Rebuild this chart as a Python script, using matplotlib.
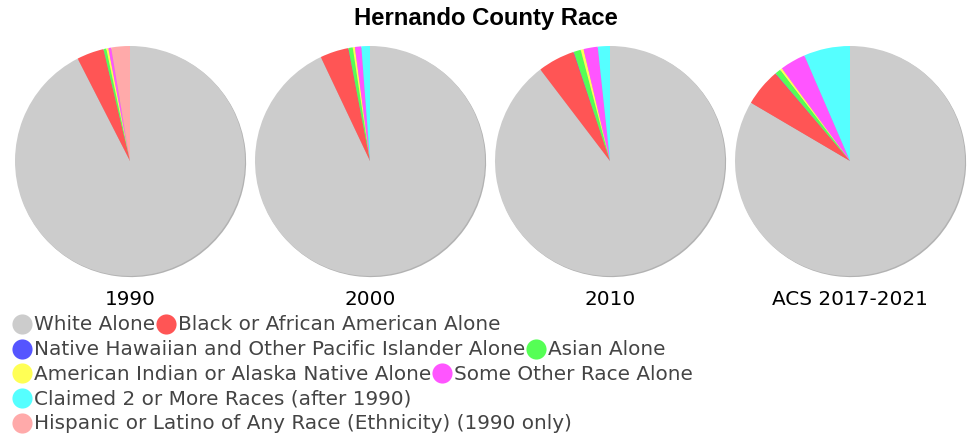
import matplotlib
matplotlib.use("Agg")
import matplotlib.pyplot as plt

# data (percent of population)
years = ["1990", "2000", "2010", "ACS 2017-2021"]
categories = ["White Alone", "Black or African American Alone",
              "Native Hawaiian and Other Pacific Islander Alone", "Asian Alone",
              "American Indian or Alaska Native Alone", "Some Other Race Alone",
              "Claimed 2 or More Races (after 1990)",
              "Hispanic or Latino of Any Race (Ethnicity) (1990 only)"]
colors = ["#cccccc", "#ff5555", "#5555ff", "#55ff55",
          "#ffff55", "#ff55ff", "#55ffff", "#ffaaaa"]

white = [95.0, 92.9, 89.6, 83.5]
black = [3.9, 4.0, 5.2, 5.3]
nhpi = [0.02, 0.03, 0.05, 0.05]
asian = [0.4, 0.6, 1.0, 0.8]
amind = [0.3, 0.3, 0.4, 0.3]
other = [0.4, 0.9, 2.0, 3.6]
two_plus = [0.0, 1.2, 1.7, 6.5]
hispanic = [2.7, 0.0, 0.0, 0.0]

W, H = 972, 439
fig = plt.figure(figsize=(W / 100, H / 100), dpi=100)

fig.text(0.5, 1 - 18 / H, "Hernando County Race", ha="center", va="center",
         fontsize=17.2, fontweight="bold", family="Liberation Sans")

radius_px = 115
for i, year in enumerate(years):
    cx = 130 + 240 * i
    cy = 162
    ax = fig.add_axes([(cx - radius_px) / W, (H - cy - radius_px) / H,
                       2 * radius_px / W, 2 * radius_px / H])
    vals = [white[i], black[i], nhpi[i], asian[i], amind[i], other[i],
            two_plus[i], hispanic[i]]
    ax.pie(vals, colors=colors, startangle=90, counterclock=False,
           shadow={"ox": 0.007, "oy": -0.007, "shade": 0.5},
           wedgeprops={"linewidth": 0})
    ax.set_xlim(-1.0, 1.0)
    ax.set_ylim(-1.0, 1.0)
    fig.text(cx / W, 1 - 300 / H, year, ha="center", va="center",
             fontsize=14.4, color="black")

# legend, wrapped like a flow layout
lax = fig.add_axes([0, 0, 1, 1])
lax.set_xlim(0, W)
lax.set_ylim(H, 0)
lax.axis("off")
fig.canvas.draw()
renderer = fig.canvas.get_renderer()

x0, x, y = 12, 12, 325
row_h = 24.7
max_w = 940
for label, col in zip(categories, colors):
    t = lax.text(0, 0, label, fontsize=14.4, color="#444444", va="center")
    tw = t.get_window_extent(renderer).width
    t.remove()
    item_w = 22 + tw
    if x + item_w > max_w and x > x0:
        x = x0
        y += row_h
    lax.plot(x + 10, y, "o", markersize=14.5, color=col, markeredgewidth=0)
    lax.text(x + 22, y, label, fontsize=14.4, color="#444444", va="center")
    x += item_w + 1

fig.savefig("out.png", dpi=100)
